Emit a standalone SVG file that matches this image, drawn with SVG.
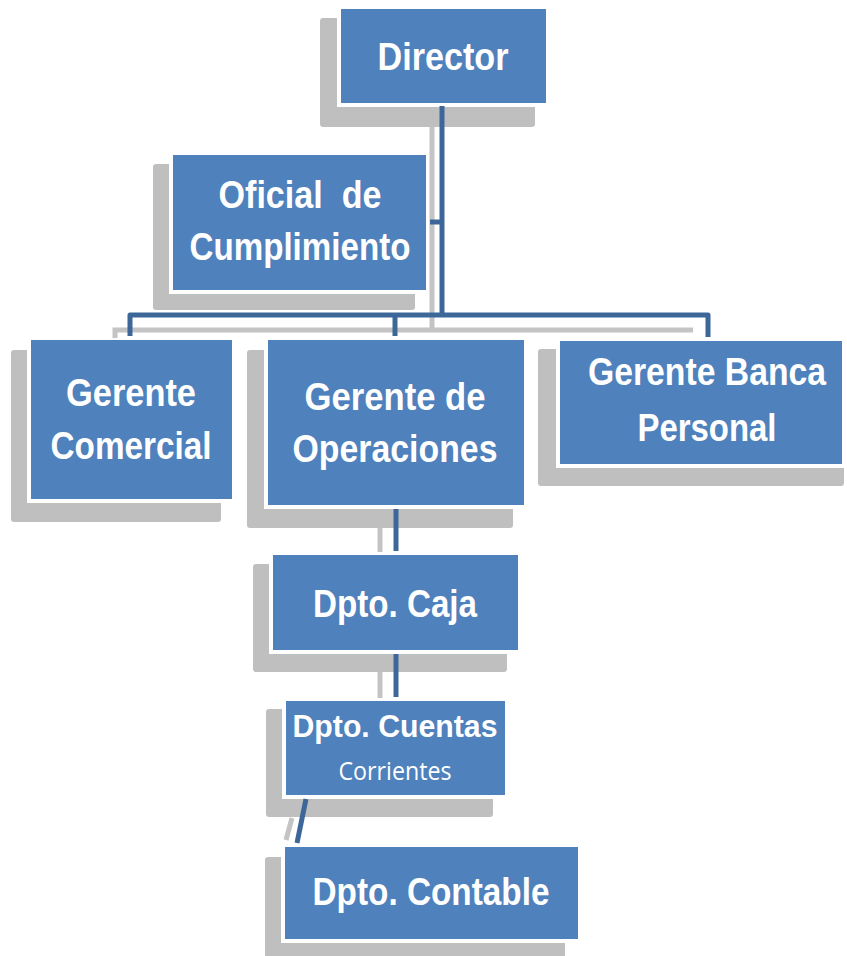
<svg xmlns="http://www.w3.org/2000/svg" width="847" height="956" viewBox="0 0 847 956">
<style>
.sh{fill:#bfbfbf}
.bx{fill:#4f81bd;stroke:#ffffff;stroke-width:4}
.t{font-family:"Liberation Sans Narrow","Liberation Sans",Arial,sans-serif;font-weight:bold;fill:#ffffff;text-anchor:middle}
.r{font-family:"Open Sans","Noto Sans",sans-serif;fill:#ffffff;text-anchor:middle}
.c{stroke:#3d6799;stroke-width:5;fill:none;stroke-linejoin:round}
.cs{stroke:#c4c4c4;stroke-width:5;fill:none}
</style>
<rect width="847" height="956" fill="#ffffff"/>
<g id="director">
<rect class="sh" x="320" y="18" width="215" height="109" rx="3"/>
<rect class="bx" x="339" y="7" width="209" height="98"/>
<text class="t" x="443" y="70" font-size="39" textLength="131" lengthAdjust="spacingAndGlyphs">Director</text>
</g>
<g id="oficial">
<rect class="sh" x="153" y="164" width="262" height="146" rx="3"/>
<rect class="bx" x="171" y="153" width="257" height="139"/>
<text class="t" x="300" y="208" font-size="39" textLength="163" lengthAdjust="spacingAndGlyphs" xml:space="preserve">Oficial  de</text>
<text class="t" x="300" y="260" font-size="39" textLength="221" lengthAdjust="spacingAndGlyphs">Cumplimiento</text>
</g>
<g id="comercial">
<rect class="sh" x="11" y="350" width="210" height="172" rx="3"/>
<rect class="bx" x="29" y="338" width="205" height="163"/>
<text class="t" x="131" y="406" font-size="39" textLength="130" lengthAdjust="spacingAndGlyphs">Gerente</text>
<text class="t" x="131" y="459" font-size="39" textLength="161" lengthAdjust="spacingAndGlyphs">Comercial</text>
</g>
<g id="operaciones">
<rect class="sh" x="247" y="350" width="266" height="178" rx="3"/>
<rect class="bx" x="266" y="338" width="260" height="169"/>
<text class="t" x="395" y="410" font-size="39" textLength="181" lengthAdjust="spacingAndGlyphs">Gerente de</text>
<text class="t" x="395" y="462" font-size="39" textLength="205" lengthAdjust="spacingAndGlyphs">Operaciones</text>
</g>
<g id="banca">
<rect class="sh" x="538" y="349" width="306" height="137" rx="3"/>
<rect class="bx" x="558" y="339" width="286" height="127"/>
<text class="t" transform="translate(707,385) scale(0.865,1)" x="0" y="0" font-size="39">Gerente Banca</text>
<text class="t" x="707" y="441" font-size="39" textLength="139" lengthAdjust="spacingAndGlyphs">Personal</text>
</g>
<g id="caja">
<rect class="sh" x="253" y="564" width="254" height="108" rx="3"/>
<rect class="bx" x="271" y="553" width="249" height="99"/>
<text class="t" x="395" y="617" font-size="39" textLength="164" lengthAdjust="spacingAndGlyphs">Dpto. Caja</text>
</g>
<g id="cuentas">
<rect class="sh" x="266" y="709" width="227" height="108" rx="3"/>
<rect class="bx" x="284" y="699" width="223" height="98"/>
<text class="t" x="395" y="737" font-size="32" textLength="205" lengthAdjust="spacingAndGlyphs">Dpto. Cuentas</text>
<text class="r" x="395" y="780" font-size="26" textLength="113" lengthAdjust="spacingAndGlyphs">Corrientes</text>
</g>
<g id="contable">
<rect class="sh" x="265" y="857" width="300" height="105" rx="3"/>
<rect class="bx" x="283" y="845" width="297" height="96"/>
<text class="t" x="431" y="905" font-size="39" textLength="237" lengthAdjust="spacingAndGlyphs">Dpto. Contable</text>
</g>
<g id="connectors">
<path class="cs" d="M432 127 V330"/>
<path class="cs" d="M115 338 V330 H693"/>
<path class="cs" d="M380 528 V552"/>
<path class="cs" d="M380 672 V698"/>
<path class="cs" d="M292 818 L286 840"/>
<path class="c" d="M442 106 V315"/>
<path class="c" d="M430 222 H442"/>
<path class="c" d="M130 336 V315 H708 V337"/>
<path class="c" d="M395 315 V336"/>
<path class="c" d="M396 509 V551"/>
<path class="c" d="M396 654 V697"/>
<path class="c" d="M306 799 L297 843"/>
</g>
</svg>
